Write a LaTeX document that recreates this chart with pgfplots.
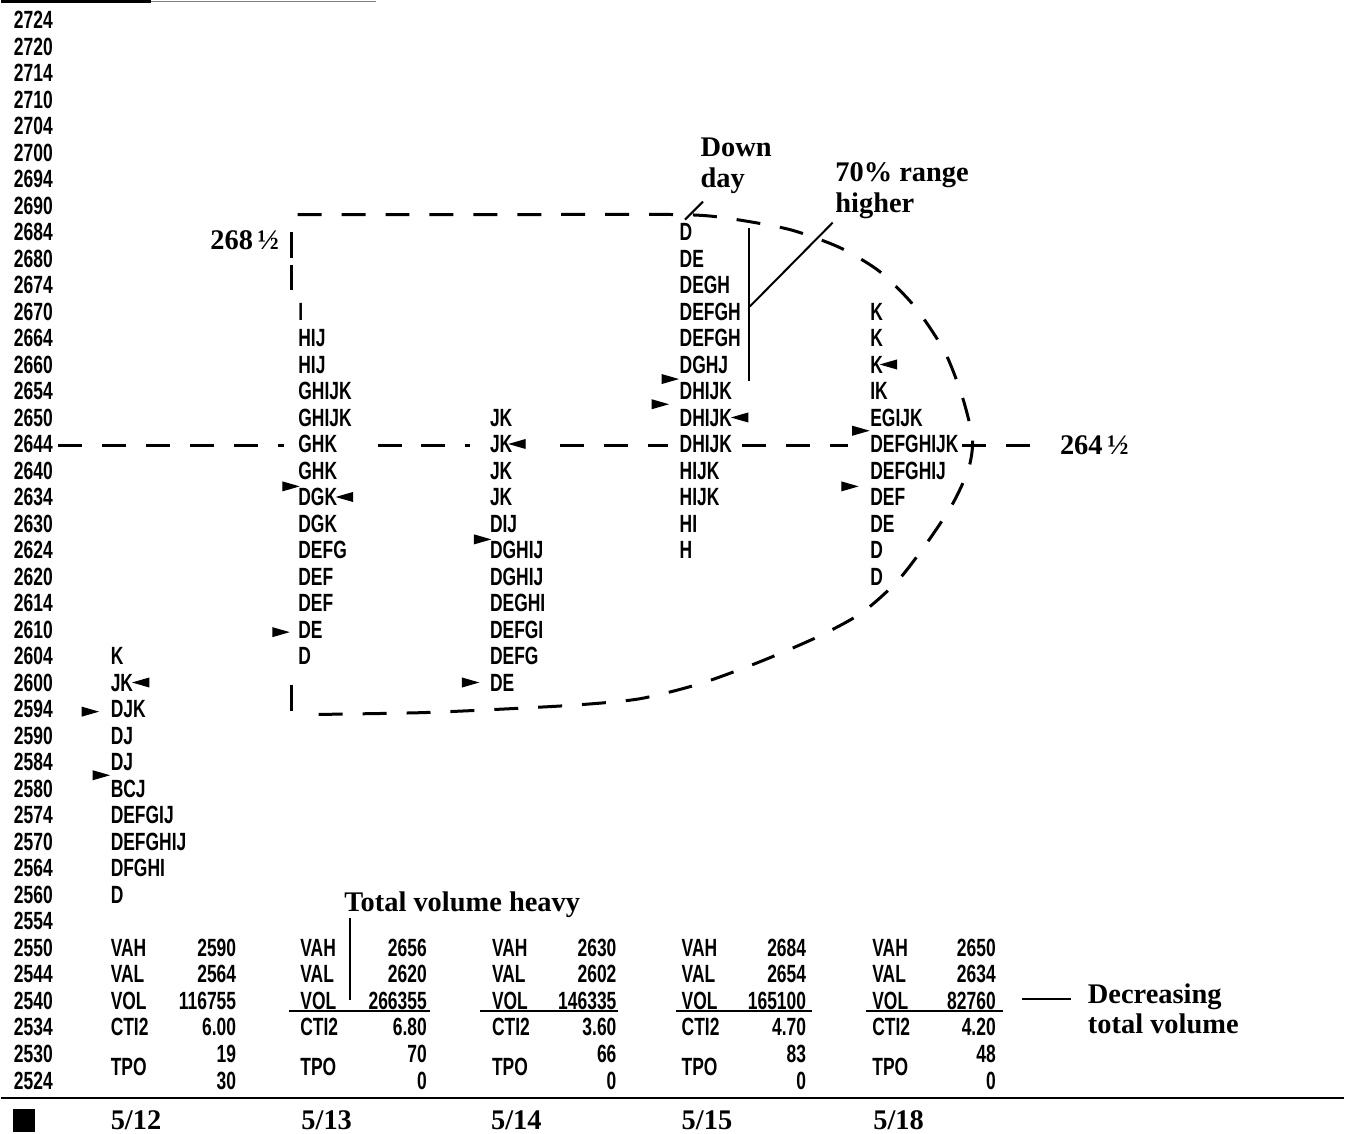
\documentclass[border=0pt]{standalone}
\usepackage{pgfplots}
\pgfplotsset{compat=1.18}
\usepackage{pgfplotstable}
\usepackage{fontspec}
\setmainfont{Liberation Serif}
\newfontfamily\cond{Liberation Sans}[FakeStretch=0.7]
\newcommand\sansf{\fontsize{7.1}{8.5}\selectfont\cond\bfseries}
\newcommand\serf{\fontsize{8.1}{9.5}\selectfont\bfseries}

% price ladder, one row per level (row 0 = top)
\pgfplotstableread[col sep=comma]{
row,label
0,2724
1,2720
2,2714
3,2710
4,2704
5,2700
6,2694
7,2690
8,2684
9,2680
10,2674
11,2670
12,2664
13,2660
14,2654
15,2650
16,2644
17,2640
18,2634
19,2630
20,2624
21,2620
22,2614
23,2610
24,2604
25,2600
26,2594
27,2590
28,2584
29,2580
30,2574
31,2570
32,2564
33,2560
34,2554
35,2550
36,2544
37,2540
38,2534
39,2530
40,2524
}\prices

% TPO letters per day
\pgfplotstableread[col sep=comma]{
x,row,label
109,24,K
109,25,JK
109,26,DJK
109,27,DJ
109,28,DJ
109,29,BCJ
109,30,DEFGIJ
109,31,DEFGHIJ
109,32,DFGHI
109,33,D
297,11,I
297,12,HIJ
297,13,HIJ
297,14,GHIJK
297,15,GHIJK
297,16,GHK
297,17,GHK
297,18,DGK
297,19,DGK
297,20,DEFG
297,21,DEF
297,22,DEF
297,23,DE
297,24,D
489,15,JK
489,16,JK
489,17,JK
489,18,JK
489,19,DIJ
489,20,DGHIJ
489,21,DGHIJ
489,22,DEGHI
489,23,DEFGI
489,24,DEFG
489,25,DE
679,8,D
679,9,DE
679,10,DEGH
679,11,DEFGH
679,12,DEFGH
679,13,DGHJ
679,14,DHIJK
679,15,DHIJK
679,16,DHIJK
679,17,HIJK
679,18,HIJK
679,19,HI
679,20,H
870,11,K
870,12,K
870,13,K
870,14,IK
870,15,EGIJK
870,16,DEFGHIJK
870,17,DEFGHIJ
870,18,DEF
870,19,DE
870,20,D
870,21,D
}\profile

\pgfplotstableread[col sep=comma]{
x,row
86,26.1
97,28.5
277,23.1
287,17.6
467,25
479,19.6
657,14.5
667,13.55
847,17.6
858,15.5
}\rarrows

\pgfplotstableread[col sep=comma]{
x,row
143,25
347,18
520,16
743,15
892,13
}\larrows

% summary block under each profile
\pgfplotstableread[col sep=comma]{
x,row,label
109,35,VAH
109,36,VAL
109,37,VOL
109,38,CTI2
109,39.5,TPO
299,35,VAH
299,36,VAL
299,37,VOL
299,38,CTI2
299,39.5,TPO
491,35,VAH
491,36,VAL
491,37,VOL
491,38,CTI2
491,39.5,TPO
681,35,VAH
681,36,VAL
681,37,VOL
681,38,CTI2
681,39.5,TPO
872,35,VAH
872,36,VAL
872,37,VOL
872,38,CTI2
872,39.5,TPO
}\statnames

\pgfplotstableread[col sep=comma]{
x,row,label
236,35,2590
236,36,2564
236,37,116755
236,38,6.00
236,39,19
236,40,30
427,35,2656
427,36,2620
427,37,266355
427,38,6.80
427,39,70
427,40,0
617,35,2630
617,36,2602
617,37,146335
617,38,3.60
617,39,66
617,40,0
807,35,2684
807,36,2654
807,37,165100
807,38,4.70
807,39,83
807,40,0
997,35,2650
997,36,2634
997,37,82760
997,38,4.20
997,39,48
997,40,0
}\statvals

\begin{document}
\begin{tikzpicture}
\begin{axis}[
  x=0.1mm, y=0.1mm,
  xmin=0, xmax=1345, ymin=0, ymax=1136,
  y dir=reverse,
  hide axis, clip=false, scale only axis,
  dashline/.style={black, line width=0.3mm, dash pattern=on 2.4mm off 2mm},
  thin line/.style={black, line width=0.2mm},
]
\addplot[draw=none, mark=none] coordinates {(0,0) (1345,1136)};

% price column
\addplot[only marks, mark=none, nodes near coords, point meta=explicit symbolic,
  every node near coord/.append style={anchor=base west, inner sep=0pt, yshift=-0.9mm, font=\sansf}]
  table[x expr=12, y expr=20+26.55*\thisrow{row}, meta=label]{\prices};

% profiles
\addplot[only marks, mark=none, nodes near coords, point meta=explicit symbolic,
  every node near coord/.append style={anchor=base west, inner sep=0pt, yshift=-0.9mm, font=\sansf}]
  table[x=x, y expr=20+26.55*\thisrow{row}, meta=label]{\profile};

% value area pointers
\addplot[only marks, mark=triangle*, mark size=1.35pt, black,
  mark options={rotate=-90, yscale=2}]
  table[x=x, y expr=20+26.55*\thisrow{row}]{\rarrows};
\addplot[only marks, mark=triangle*, mark size=1.35pt, black,
  mark options={rotate=90, yscale=2}]
  table[x=x, y expr=20+26.55*\thisrow{row}]{\larrows};

% summary block
\addplot[only marks, mark=none, nodes near coords, point meta=explicit symbolic,
  every node near coord/.append style={anchor=base west, inner sep=0pt, yshift=-0.9mm, font=\sansf}]
  table[x=x, y expr=20+26.55*\thisrow{row}, meta=label]{\statnames};
\addplot[only marks, mark=none, nodes near coords, point meta=explicit symbolic,
  every node near coord/.append style={anchor=base east, inner sep=0pt, yshift=-0.9mm, font=\sansf}]
  table[x=x, y expr=20+26.55*\thisrow{row}, meta=label]{\statvals};

\addplot[thin line] coordinates {(288,1013) (430,1013)};
\addplot[thin line] coordinates {(480,1013) (618,1013)};
\addplot[thin line] coordinates {(676,1013) (812,1013)};
\addplot[thin line] coordinates {(866,1013) (1004,1013)};

% 2644 level
\addplot[dashline] coordinates {(57,446) (283,446)};
\addplot[dashline] coordinates {(377,446) (470,446)};
\addplot[dashline] coordinates {(560,446) (668,446)};
\addplot[dashline] coordinates {(742,446) (848,446)};
\addplot[dashline] coordinates {(963,446) (1048,446)};

% balance area outline
\addplot[dashline, smooth, tension=0.45] coordinates {
  (297,215) (500,215) (680,215) (730,219) (790,230) (840,248) (880,272)
  (915,307) (945,352) (963,398) (973,440) (969,470) (953,505) (928,543)
  (898,582) (862,614) (818,638) (760,663) (700,685) (640,700) (580,706)
  (510,710) (420,714) (300,716)};
\addplot[black, line width=0.3mm] coordinates {(291,232) (291,258)};
\addplot[black, line width=0.3mm] coordinates {(291,265) (291,291)};
\addplot[black, line width=0.3mm] coordinates {(291,686) (291,712)};

% callout lines
\addplot[thin line] coordinates {(703,202) (685,220)};
\addplot[thin line] coordinates {(749,228) (749,382)};
\addplot[thin line] coordinates {(750,307) (833,223)};
\addplot[thin line] coordinates {(349,920) (349,1002)};
\addplot[thin line] coordinates {(1023,1001) (1072,1001)};

% rules
\addplot[black, line width=0.25mm] coordinates {(0,1100) (1345,1100)};
\addplot[black, line width=0.25mm] coordinates {(0,1.5) (150,1.5)};
\addplot[gray, line width=0.12mm] coordinates {(150,1.5) (375,1.5)};
\addplot[only marks, mark=square*, mark size=1.05mm, black] coordinates {(22.5,1122.5)};

% annotations
\node[anchor=base east, inner sep=0pt, font=\serf] at (axis cs:279,250) {268\,½};
\node[anchor=base west, inner sep=0pt, font=\serf] at (axis cs:1060,455) {264\,½};
\node[anchor=base west, inner sep=0pt, font=\serf] at (axis cs:700,157) {Down};
\node[anchor=base west, inner sep=0pt, font=\serf] at (axis cs:700,188) {day};
\node[anchor=base west, inner sep=0pt, font=\serf] at (axis cs:835,182) {70\% range};
\node[anchor=base west, inner sep=0pt, font=\serf] at (axis cs:835,213) {higher};
\node[anchor=base west, inner sep=0pt, font=\serf] at (axis cs:343,913) {Total volume heavy};
\node[anchor=base west, inner sep=0pt, font=\serf] at (axis cs:1088,1005) {Decreasing};
\node[anchor=base west, inner sep=0pt, font=\serf] at (axis cs:1088,1035) {total volume};

\node[anchor=base west, inner sep=0pt, font=\serf] at (axis cs:109,1132) {5/12};
\node[anchor=base west, inner sep=0pt, font=\serf] at (axis cs:300,1132) {5/13};
\node[anchor=base west, inner sep=0pt, font=\serf] at (axis cs:490,1132) {5/14};
\node[anchor=base west, inner sep=0pt, font=\serf] at (axis cs:681,1132) {5/15};
\node[anchor=base west, inner sep=0pt, font=\serf] at (axis cs:873,1132) {5/18};
\end{axis}
\end{tikzpicture}
\end{document}
